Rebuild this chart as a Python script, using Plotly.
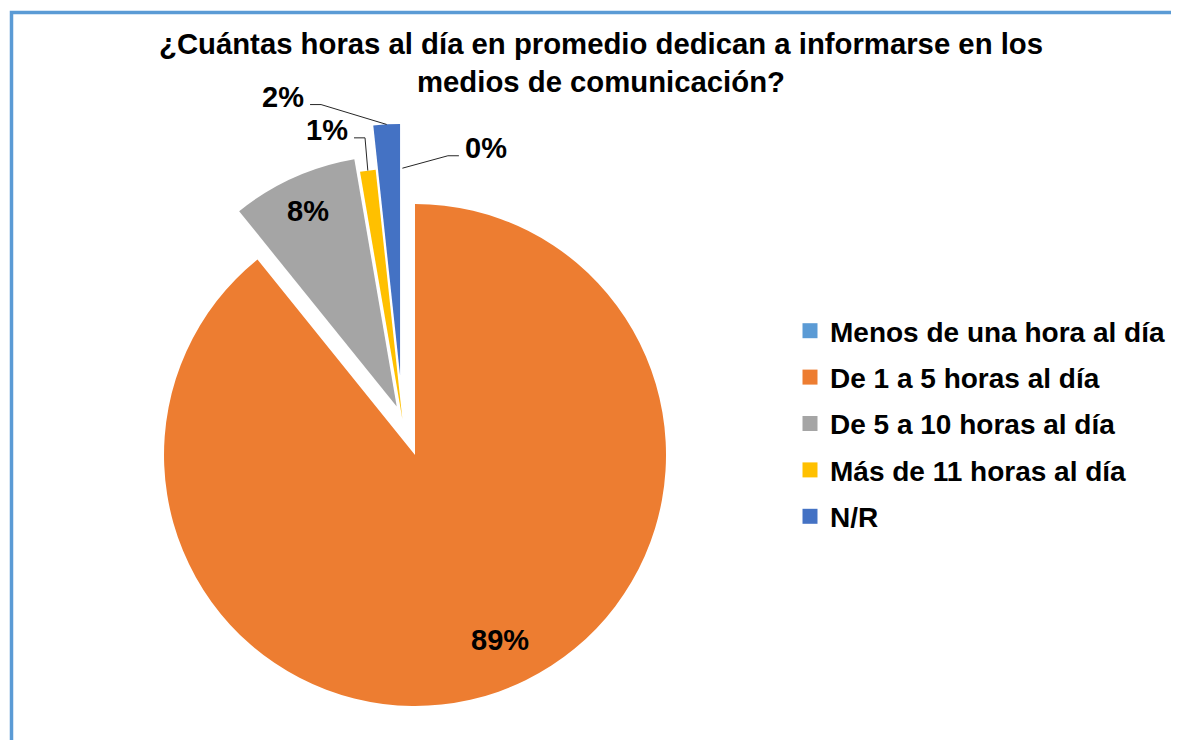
import math

import plotly.graph_objects as go

LABELS = [
    "Menos de una hora al día",
    "De 1 a 5 horas al día",
    "De 5 a 10 horas al día",
    "Más de 11 horas al día",
    "N/R",
]
PERCENT = [0.0, 89.2, 8.1, 1.0, 1.7]

TITLE = "¿Cuántas horas al día en promedio dedican a informarse en los<br>medios de comunicación?"

# styling
COLORS = ["#5B9BD5", "#ED7D31", "#A5A5A5", "#FFC000", "#4472C4"]
EXPLODE = [0.0, 0.151, 0.055, 0.0, 0.176]
FONT = "Liberation Sans, Arial, sans-serif"
OFF = 8  # default body margin of the html page
W, H = 1179 - OFF, 740 - OFF
CX, CY, R = 402.4, 419.2, 251  # pie centre / radius, page px
# label placement: (angle clockwise from 12 o'clock, distance from centre px)
LABEL_POLAR = [(17.1, 284), (156.2, 241), (335.6, 229), (345.4, 299), (339.7, 344)]
INSIDE = [False, True, True, False, False]


def to_paper(x, y):
    return (x - OFF) / W, 1 - (y - OFF) / H


def polar(angle, dist, ox=CX, oy=CY):
    a = math.radians(angle)
    return ox + dist * math.sin(a), oy - dist * math.cos(a)


total = sum(PERCENT)
mids = []
start = 0.0
for v in PERCENT:
    mids.append(start + v / total * 180)
    start += v / total * 360

half = R * (1 + max(EXPLODE))
x0, y0 = to_paper(CX - half, CY + half)
x1, y1 = to_paper(CX + half, CY - half)

fig = go.Figure()
fig.add_trace(
    go.Pie(
        labels=LABELS,
        values=PERCENT,
        marker={"colors": COLORS, "line": {"width": 0}},
        pull=EXPLODE,
        sort=False,
        direction="clockwise",
        rotation=0,
        textinfo="none",
        hoverinfo="label+percent",
        showlegend=False,
        domain={"x": [x0, x1], "y": [y0, y1]},
    )
)

# legend entries
for lab, col in zip(LABELS, COLORS):
    fig.add_trace(
        go.Scatter(
            x=[None],
            y=[None],
            mode="markers",
            marker={"symbol": "square", "size": 15, "color": col},
            name=lab,
            legendgroup=lab,
            hoverinfo="skip",
        )
    )

annotations = []
shapes = []
for i, v in enumerate(PERCENT):
    lx, ly = polar(*LABEL_POLAR[i])
    px, py = to_paper(lx, ly)
    annotations.append(
        dict(
            x=px, y=py, xref="paper", yref="paper",
            text=f"{round(v / total * 100):.0f}%",
            showarrow=False,
            font={"size": 29, "color": "black", "family": FONT, "weight": "bold"},
            xanchor="center", yanchor="middle",
        )
    )
    if not INSIDE[i]:
        ax, ay = polar(mids[i], EXPLODE[i] * R)
        ox, oy = polar(mids[i], R, ax, ay)
        side = 1 if ox > lx else -1
        sx, sy = lx + side * 27, ly + 8
        ex = sx + side * 11
        pts = [to_paper(sx, sy), to_paper(ex, sy), to_paper(ox, oy)]
        path = "M " + " L ".join(f"{a:.5f},{b:.5f}" for a, b in pts)
        shapes.append(
            dict(type="path", path=path, xref="paper", yref="paper",
                 line={"color": "#262626", "width": 1})
        )

# chart area border
bx0, by1 = to_paper(11.5, 12.5)
shapes.append(
    dict(type="rect", xref="paper", yref="paper",
         x0=bx0, x1=1.05, y0=-0.05, y1=by1,
         line={"color": "#5B9BD5", "width": 3.5})
)

lgx, lgy = to_paper(790, 423.5)
fig.update_layout(
    width=W,
    height=H,
    margin={"l": 0, "r": 0, "t": 0, "b": 0, "autoexpand": False},
    paper_bgcolor="white",
    plot_bgcolor="white",
    font={"family": FONT, "color": "black"},
    title={
        "text": TITLE,
        "x": (601 - OFF) / W,
        "xanchor": "center",
        "y": 1 - 46 / H,
        "yanchor": "top",
        "yref": "container",
        "font": {"size": 29.3, "color": "black", "family": FONT, "weight": "bold"},
    },
    xaxis={"visible": False},
    yaxis={"visible": False},
    legend={
        "x": lgx,
        "xanchor": "left",
        "y": lgy,
        "yanchor": "middle",
        "traceorder": "grouped",
        "tracegroupgap": 7,
        "font": {"size": 28, "color": "black", "family": FONT, "weight": "bold"},
        "bgcolor": "rgba(0,0,0,0)",
    },
    annotations=annotations,
    shapes=shapes,
)

fig.write_html("out.html")
